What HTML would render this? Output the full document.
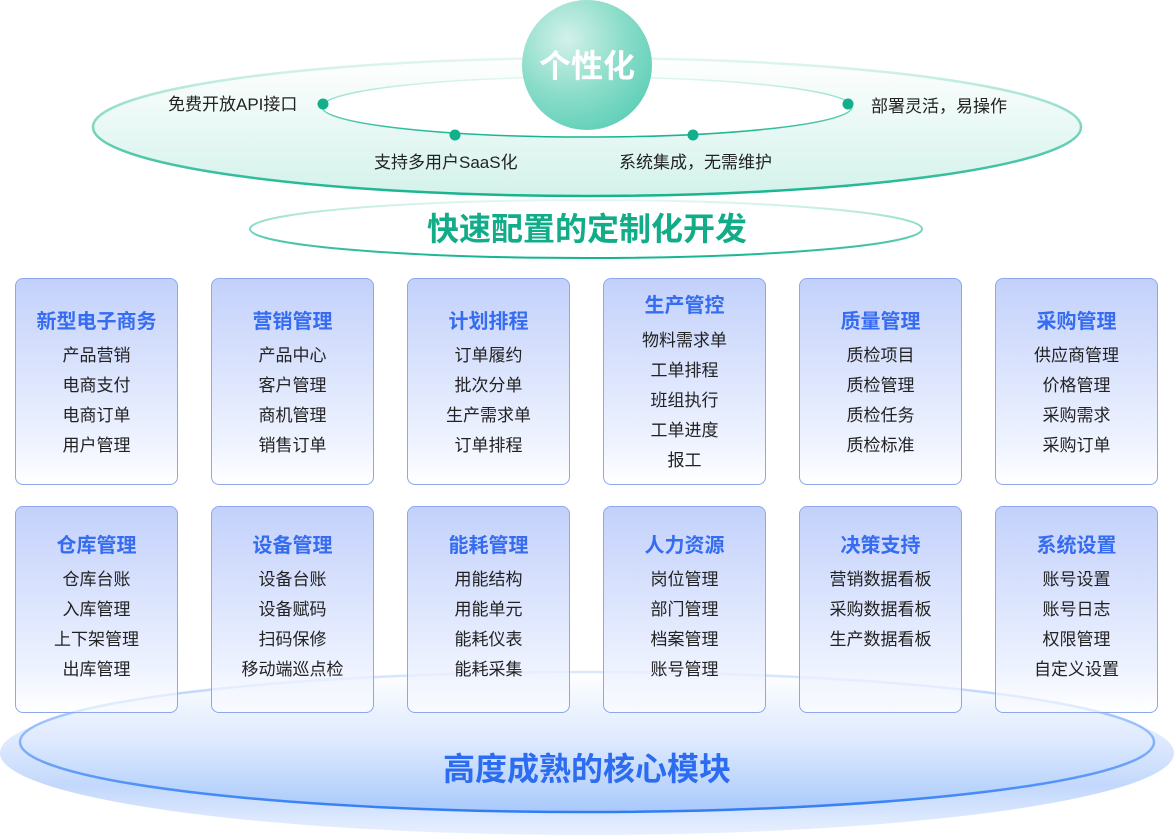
<!DOCTYPE html>
<html><head><meta charset="utf-8"><style>
body{margin:0;width:1174px;height:835px;overflow:hidden;background:#fff;font-family:"Liberation Sans","Noto Sans CJK SC",sans-serif;}
svg{position:absolute;left:0;top:0}
.box{position:absolute;width:161px;height:205px;border:1px solid #8ea6ee;border-radius:8px;background:linear-gradient(#c3d1fb,rgba(233,239,255,0.75) 80%,rgba(255,255,255,0.6));box-sizing:content-box}
.t{position:absolute;left:0;width:100%;text-align:center;font-size:20px;font-weight:bold;color:#356cf0;line-height:24px}
.i{position:absolute;left:0;width:100%;text-align:center;font-size:17px;color:#222;line-height:20px}
.lbl{position:absolute;font-size:17px;color:#222;line-height:20px;white-space:nowrap}
</style></head><body>
<svg width="1174" height="835">
<defs>
<linearGradient id="g1" x1="0" y1="0" x2="0" y2="1"><stop offset="0" stop-color="#ffffff"/><stop offset="1" stop-color="#d3f2ea"/></linearGradient>
<linearGradient id="s1" x1="0" y1="0" x2="0" y2="1"><stop offset="0" stop-color="#e3f7f2"/><stop offset="1" stop-color="#15b48e"/></linearGradient>
<linearGradient id="b1" x1="0" y1="0" x2="0" y2="1"><stop offset="0" stop-color="#ffffff"/><stop offset="0.5" stop-color="#dde9fe"/><stop offset="1" stop-color="#a8c9fb"/></linearGradient>
<linearGradient id="b2" x1="0" y1="0" x2="0" y2="1"><stop offset="0" stop-color="#e6efff" stop-opacity="0.3"/><stop offset="0.7" stop-color="#c2d8fc"/><stop offset="1" stop-color="#e8f0ff"/></linearGradient>
<linearGradient id="bs" x1="0" y1="0" x2="0" y2="1"><stop offset="0" stop-color="#dce8ff"/><stop offset="1" stop-color="#2f7df5"/></linearGradient>
<radialGradient id="c1" cx="0.35" cy="0.3" r="0.75"><stop offset="0" stop-color="#d3f1ea"/><stop offset="0.6" stop-color="#88dcc8"/><stop offset="1" stop-color="#62d0b8"/></radialGradient>
</defs>
<ellipse cx="587" cy="753" rx="587" ry="82" fill="url(#b2)"/>
<ellipse cx="587" cy="742" rx="567" ry="70" fill="url(#b1)" stroke="url(#bs)" stroke-width="2.5"/>
<ellipse cx="587" cy="127" rx="494" ry="69" fill="url(#g1)" stroke="url(#s1)" stroke-width="2.5"/>
<ellipse cx="587" cy="107" rx="265" ry="30" fill="#fff" stroke="url(#s1)" stroke-width="1.5"/>
<ellipse cx="586" cy="229" rx="336" ry="29" fill="#fff" stroke="url(#s1)" stroke-width="2"/>
<circle cx="587" cy="65" r="65" fill="url(#c1)"/>
<circle cx="323" cy="104" r="5.5" fill="#11b08b"/>
<circle cx="455" cy="135" r="5.5" fill="#11b08b"/>
<circle cx="693" cy="135" r="5.5" fill="#11b08b"/>
<circle cx="848" cy="104" r="5.5" fill="#11b08b"/>
<text x="587" y="77" text-anchor="middle" font-size="32" font-weight="bold" fill="#fff" font-family="Liberation Sans,Noto Sans CJK SC,sans-serif">个性化</text>
<text x="587" y="240" text-anchor="middle" font-size="32" font-weight="bold" fill="#12ad88" font-family="Liberation Sans,Noto Sans CJK SC,sans-serif">快速配置的定制化开发</text>
<text x="587" y="780" text-anchor="middle" font-size="32" font-weight="bold" fill="#2c6cf0" font-family="Liberation Sans,Noto Sans CJK SC,sans-serif">高度成熟的核心模块</text>
</svg>
<div class="lbl" style="left:168px;top:95px">免费开放API接口</div>
<div class="lbl" style="left:374px;top:153px">支持多用户SaaS化</div>
<div class="lbl" style="left:619px;top:153px">系统集成，无需维护</div>
<div class="lbl" style="left:871px;top:97px">部署灵活，易操作</div>

<div class="box" style="left:15px;top:278px"><div class="t" style="top:31px">新型电子商务</div><div class="i" style="top:67px">产品营销</div><div class="i" style="top:97px">电商支付</div><div class="i" style="top:127px">电商订单</div><div class="i" style="top:157px">用户管理</div></div>
<div class="box" style="left:211px;top:278px"><div class="t" style="top:31px">营销管理</div><div class="i" style="top:67px">产品中心</div><div class="i" style="top:97px">客户管理</div><div class="i" style="top:127px">商机管理</div><div class="i" style="top:157px">销售订单</div></div>
<div class="box" style="left:407px;top:278px"><div class="t" style="top:31px">计划排程</div><div class="i" style="top:67px">订单履约</div><div class="i" style="top:97px">批次分单</div><div class="i" style="top:127px">生产需求单</div><div class="i" style="top:157px">订单排程</div></div>
<div class="box" style="left:603px;top:278px"><div class="t" style="top:15px">生产管控</div><div class="i" style="top:52px">物料需求单</div><div class="i" style="top:82px">工单排程</div><div class="i" style="top:112px">班组执行</div><div class="i" style="top:142px">工单进度</div><div class="i" style="top:172px">报工</div></div>
<div class="box" style="left:799px;top:278px"><div class="t" style="top:31px">质量管理</div><div class="i" style="top:67px">质检项目</div><div class="i" style="top:97px">质检管理</div><div class="i" style="top:127px">质检任务</div><div class="i" style="top:157px">质检标准</div></div>
<div class="box" style="left:995px;top:278px"><div class="t" style="top:31px">采购管理</div><div class="i" style="top:67px">供应商管理</div><div class="i" style="top:97px">价格管理</div><div class="i" style="top:127px">采购需求</div><div class="i" style="top:157px">采购订单</div></div>

<div class="box" style="left:15px;top:506px"><div class="t" style="top:27px">仓库管理</div><div class="i" style="top:63px">仓库台账</div><div class="i" style="top:93px">入库管理</div><div class="i" style="top:123px">上下架管理</div><div class="i" style="top:153px">出库管理</div></div>
<div class="box" style="left:211px;top:506px"><div class="t" style="top:27px">设备管理</div><div class="i" style="top:63px">设备台账</div><div class="i" style="top:93px">设备赋码</div><div class="i" style="top:123px">扫码保修</div><div class="i" style="top:153px">移动端巡点检</div></div>
<div class="box" style="left:407px;top:506px"><div class="t" style="top:27px">能耗管理</div><div class="i" style="top:63px">用能结构</div><div class="i" style="top:93px">用能单元</div><div class="i" style="top:123px">能耗仪表</div><div class="i" style="top:153px">能耗采集</div></div>
<div class="box" style="left:603px;top:506px"><div class="t" style="top:27px">人力资源</div><div class="i" style="top:63px">岗位管理</div><div class="i" style="top:93px">部门管理</div><div class="i" style="top:123px">档案管理</div><div class="i" style="top:153px">账号管理</div></div>
<div class="box" style="left:799px;top:506px"><div class="t" style="top:27px">决策支持</div><div class="i" style="top:63px">营销数据看板</div><div class="i" style="top:93px">采购数据看板</div><div class="i" style="top:123px">生产数据看板</div></div>
<div class="box" style="left:995px;top:506px"><div class="t" style="top:27px">系统设置</div><div class="i" style="top:63px">账号设置</div><div class="i" style="top:93px">账号日志</div><div class="i" style="top:123px">权限管理</div><div class="i" style="top:153px">自定义设置</div></div>
</body></html>
